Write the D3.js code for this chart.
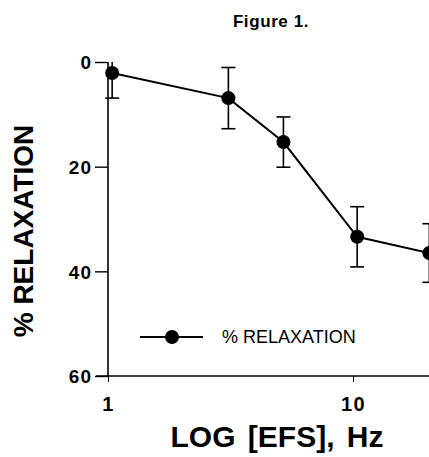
<!DOCTYPE html>
<html>
<head>
<meta charset="utf-8">
<script src="https://cdn.jsdelivr.net/npm/d3@7"></script>
<style>
  html, body { margin: 0; padding: 0; background: #fff; }
  svg { display: block; }
  text { font-family: "Liberation Sans", Arial, Helvetica, sans-serif; fill: #000; }
</style>
</head>
<body>
<svg id="chart" width="429" height="457"></svg>
<script>
// ---- data ----
const frequencies = [1.04, 3.1, 5.2, 10.4, 20.5];       // Hz
const relaxation  = [2.1, 6.9, 15.3, 33.4, 36.5];       // % relaxation (mean)
const errors      = [4.8, 5.85, 4.8, 5.75, 5.6];        // SE
const yTicks      = [0, 20, 40, 60];
const xTicks      = [1, 10];
const seriesName  = "% RELAXATION";

const svg = d3.select("#chart");

const x = d3.scaleLog().domain([1, 30]).range([108, 108 + 245 * Math.log10(30)]);
const y = d3.scaleLinear().domain([0, 60]).range([62, 376]);

// title
svg.append("text").attr("x", 271).attr("y", 27).attr("text-anchor", "middle")
  .style("font-size", "17px").style("font-weight", "bold").style("letter-spacing", "0.6px")
  .text("Figure 1.");

// y axis
const yAxis = d3.axisLeft(y).tickValues(yTicks).tickSize(13).tickPadding(3).tickFormat(d3.format("d"));
const gy = svg.append("g").attr("transform", "translate(108,0)").call(yAxis);
gy.select(".domain").attr("stroke-width", 1.6).attr("d", `M0,${y(0)}V${y(60)}`);
gy.selectAll(".tick line").attr("stroke-width", 1.4);
gy.selectAll(".tick text").style("font-size", "19px").style("font-weight", "bold")
  .style("letter-spacing", "1px").attr("dy", "0.36em");

// x axis
const xAxis = d3.axisBottom(x).tickValues(xTicks).tickSize(6).tickPadding(15).tickFormat(d3.format("d"));
const gx = svg.append("g").attr("transform", `translate(0,${y(60)})`).call(xAxis);
gx.select(".domain").attr("stroke-width", 1.6).attr("d", `M${x(1) - 12},0H${x(30)}`);
gx.selectAll(".tick line").attr("stroke-width", 1);
gx.selectAll(".tick text").style("font-size", "20px").style("font-weight", "bold")
  .style("letter-spacing", "1.5px").attr("dy", "0.71em");

// axis titles
svg.append("text").attr("transform", "translate(33,231) rotate(-90)")
  .attr("text-anchor", "middle").style("font-size", "28px").style("font-weight", "bold")
  .text("% RELAXATION");
svg.append("text").attr("x", 277).attr("y", 447).attr("text-anchor", "middle")
  .style("font-size", "30px").style("font-weight", "bold").style("word-spacing", "4px")
  .text("LOG [EFS], Hz");

const data = frequencies.map((f, i) => ({ f, v: relaxation[i], e: errors[i] }));

// error bars
const eb = svg.append("g").attr("stroke", "#000").attr("stroke-width", 1.6);
data.forEach(d => {
  const cx = x(d.f);
  const lo = d.v + d.e, hiRaw = d.v - d.e;
  const hi = Math.max(0, hiRaw);
  eb.append("line").attr("x1", cx).attr("x2", cx).attr("y1", y(hi)).attr("y2", y(lo));
  eb.append("line").attr("x1", cx - 7).attr("x2", cx + 7).attr("y1", y(lo)).attr("y2", y(lo));
  if (hiRaw >= 0) eb.append("line").attr("x1", cx - 7).attr("x2", cx + 7).attr("y1", y(hi)).attr("y2", y(hi));
});

// line
svg.append("path").datum(data)
  .attr("fill", "none").attr("stroke", "#000").attr("stroke-width", 2)
  .attr("d", d3.line().x(d => x(d.f)).y(d => y(d.v)));

// markers
svg.append("g").selectAll("circle").data(data).join("circle")
  .attr("cx", d => x(d.f)).attr("cy", d => y(d.v)).attr("r", 7).attr("fill", "#000");

// legend
const lg = svg.append("g").attr("transform", "translate(0,337)");
lg.append("line").attr("x1", 140).attr("x2", 203).attr("y1", 0).attr("y2", 0)
  .attr("stroke", "#000").attr("stroke-width", 2);
lg.append("circle").attr("cx", 172).attr("cy", 0).attr("r", 7).attr("fill", "#000");
lg.append("text").attr("x", 222).attr("y", 6).style("font-size", "18px").text(seriesName);
</script>
</body>
</html>
